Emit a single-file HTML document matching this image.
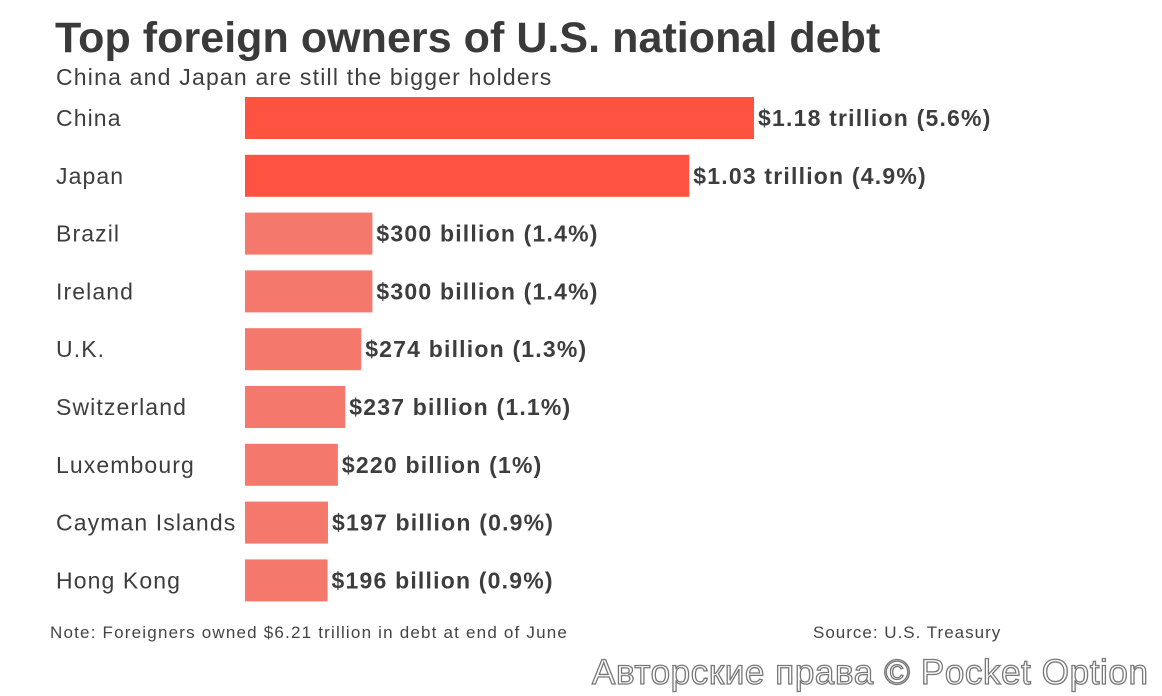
<!DOCTYPE html>
<html><head><meta charset="utf-8"><style>
body{margin:0;width:1162px;height:696px;background:#fff;overflow:hidden;font-family:"Liberation Sans",sans-serif;color:#3d3d3d;position:relative}
.abs{position:absolute;white-space:nowrap}
</style></head><body>
<div class="abs" style="left:55px;top:14px;font-size:43px;font-weight:bold;color:#3a3a3a;letter-spacing:0.05px">Top foreign owners of U.S. national debt</div>
<div class="abs" style="left:56px;top:64px;font-size:23px;color:#3d3d3d;letter-spacing:1.2px">China and Japan are still the bigger holders</div>
<svg id="chart" width="1162" height="696" style="position:absolute;left:0;top:0"></svg>
<div class="abs" style="left:50px;top:623px;font-size:17px;color:#444;letter-spacing:1.2px">Note: Foreigners owned $6.21 trillion in debt at end of June</div>
<div class="abs" style="left:813px;top:623px;font-size:17px;color:#444;letter-spacing:1px">Source: U.S. Treasury</div>
<div class="abs" style="left:592px;top:653px;font-size:35px;color:#fff;-webkit-text-stroke:1.3px #777;letter-spacing:0.6px">Авторские права © Pocket Option</div>
<script>
const categories=["China","Japan","Brazil","Ireland","U.K.","Switzerland","Luxembourg","Cayman Islands","Hong Kong"];
const values=[1180,1030,300,300,274,237,220,197,196];
const labels=["$1.18 trillion (5.6%)","$1.03 trillion (4.9%)","$300 billion (1.4%)","$300 billion (1.4%)","$274 billion (1.3%)","$237 billion (1.1%)","$220 billion (1%)","$197 billion (0.9%)","$196 billion (0.9%)"];
const svg=document.getElementById('chart');
const NS='http://www.w3.org/2000/svg';
const x0=245,scale=(754-245)/1180;
const x=v=>x0+v*scale;
const yTop=i=>97+i*57.8;
const bh=42;
categories.forEach((c,i)=>{
  const r=document.createElementNS(NS,'rect');
  r.setAttribute('x',x0);r.setAttribute('y',yTop(i));
  r.setAttribute('width',x(values[i])-x0-(i>1?2:0));r.setAttribute('height',bh);
  r.setAttribute('fill',i<2?'#fe5340':'#f5786c');
  
  
  svg.appendChild(r);
  const t=document.createElementNS(NS,'text');
  t.setAttribute('x',56);t.setAttribute('y',yTop(i)+bh/2+8);
  t.setAttribute('font-size','23');t.setAttribute('fill','#3d3d3d');
  t.setAttribute('letter-spacing','1.1');
  t.setAttribute('font-family','Liberation Sans, sans-serif');
  t.textContent=c;
  
  
  svg.appendChild(t);
  const v=document.createElementNS(NS,'text');
  v.setAttribute('x',x(values[i])+4-(i>1?2:0));v.setAttribute('y',yTop(i)+bh/2+8);
  v.setAttribute('font-size','23');v.setAttribute('font-weight','bold');v.setAttribute('fill','#3d3d3d');
  v.setAttribute('letter-spacing','1.2');
  v.setAttribute('font-family','Liberation Sans, sans-serif');
  v.textContent=labels[i];
  
  
  svg.appendChild(v);
});
</script>
</body></html>
